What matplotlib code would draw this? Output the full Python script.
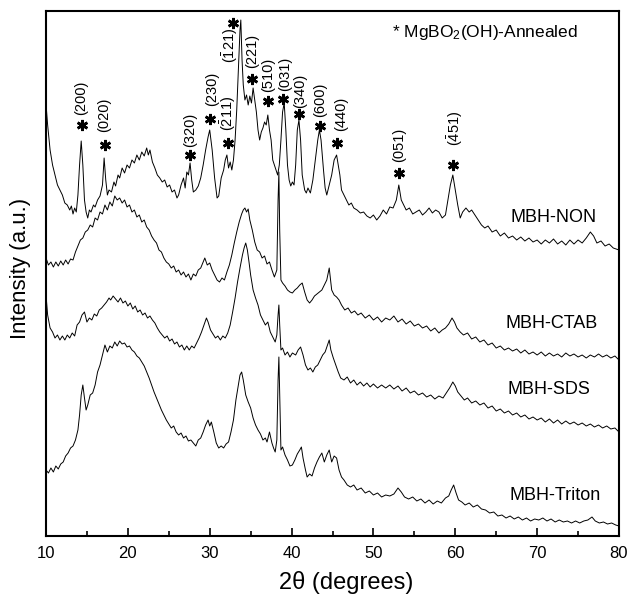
import numpy as np
import matplotlib
matplotlib.use("Agg")
import matplotlib.pyplot as plt

plt.rcParams["font.family"] = ["Liberation Sans", "DejaVu Sans"]
plt.rcParams["mathtext.fontset"] = "custom"
plt.rcParams["mathtext.rm"] = "Liberation Sans"
plt.rcParams["mathtext.it"] = "Liberation Sans:italic"
plt.rcParams["mathtext.bf"] = "Liberation Sans:bold"

# XRD patterns, already stacked (2theta, intensity a.u.)
non_pts = [(10.0, 432), (10.2, 411), (10.5, 386), (10.8, 371), (11.1, 361), (11.4, 351), (11.7, 346),
           (12.0, 341), (12.3, 333), (12.6, 331), (12.9, 326), (13.1, 330), (13.3, 322), (13.5, 328),
           (13.7, 324), (13.9, 341), (14.1, 371), (14.3, 395), (14.5, 371), (14.7, 336), (14.9, 324),
           (15.1, 318), (15.3, 326), (15.5, 324), (15.8, 331), (16.0, 329), (16.3, 336), (16.6, 340),
           (16.9, 351), (17.1, 378), (17.3, 356), (17.5, 341), (17.7, 346), (18.0, 344), (18.3, 354),
           (18.5, 350), (18.8, 361), (19.0, 358), (19.3, 368), (19.6, 363), (19.9, 371), (20.2, 368),
           (20.5, 376), (20.8, 373), (21.1, 381), (21.4, 376), (21.7, 384), (22.0, 380), (22.3, 388),
           (22.5, 381), (22.7, 386), (23.0, 374), (23.3, 368), (23.6, 361), (23.9, 358), (24.2, 354),
           (24.5, 356), (24.8, 349), (25.1, 351), (25.4, 344), (25.7, 346), (26.0, 338), (26.2, 341),
           (26.5, 351), (26.8, 358), (27.0, 348), (27.2, 364), (27.4, 361), (27.6, 373), (27.8, 356),
           (28.0, 344), (28.3, 346), (28.6, 350), (28.9, 358), (29.2, 371), (29.5, 386), (29.8, 399),
           (30.0, 406), (30.3, 386), (30.6, 358), (30.9, 338), (31.1, 340), (31.4, 358), (31.7, 366),
           (31.9, 376), (32.1, 381), (32.3, 368), (32.5, 374), (32.7, 366), (32.9, 376), (33.1, 396),
           (33.3, 426), (33.5, 466), (33.7, 506), (33.8, 516), (33.95, 476), (34.1, 451), (34.3, 436),
           (34.5, 441), (34.7, 431), (34.9, 440), (35.1, 433), (35.3, 448), (35.5, 436), (35.7, 424),
           (35.9, 406), (36.1, 396), (36.3, 404), (36.5, 408), (36.7, 414), (36.9, 411), (37.1, 421),
           (37.3, 406), (37.5, 396), (37.7, 376), (37.9, 371), (38.1, 366), (38.3, 361), (38.5, 371),
           (38.7, 396), (38.9, 424), (39.1, 433), (39.3, 406), (39.5, 371), (39.7, 356), (39.9, 350),
           (40.1, 354), (40.3, 351), (40.5, 371), (40.7, 406), (40.9, 416), (41.1, 396), (41.3, 361),
           (41.6, 346), (41.8, 343), (42.0, 348), (42.3, 343), (42.6, 356), (42.9, 376), (43.2, 396),
           (43.4, 406), (43.6, 396), (43.9, 366), (44.1, 348), (44.3, 341), (44.6, 351), (44.9, 361),
           (45.2, 376), (45.5, 381), (45.7, 371), (45.9, 361), (46.1, 346), (46.4, 341), (46.7, 336),
           (47.0, 331), (47.3, 333), (47.6, 328), (48.0, 326), (48.4, 323), (48.8, 324), (49.2, 320),
           (49.6, 318), (50.0, 321), (50.4, 316), (50.8, 320), (51.2, 326), (51.6, 322), (52.0, 329),
           (52.4, 328), (52.8, 336), (53.1, 351), (53.4, 336), (53.7, 331), (54.0, 326), (54.4, 328),
           (54.8, 322), (55.2, 324), (55.6, 326), (56.0, 321), (56.4, 324), (56.8, 328), (57.2, 323),
           (57.6, 326), (58.0, 324), (58.4, 318), (58.8, 321), (59.1, 336), (59.4, 351), (59.7, 361),
           (60.0, 346), (60.3, 331), (60.6, 318), (60.9, 324), (61.3, 328), (61.7, 324), (62.0, 326),
           (62.4, 321), (62.8, 316), (63.2, 311), (63.6, 308), (64.0, 310), (64.5, 304), (65.0, 306),
           (65.5, 300), (66.0, 303), (66.5, 298), (67.0, 300), (67.5, 296), (68.0, 299), (68.5, 295),
           (69.0, 298), (69.5, 294), (70.0, 296), (70.5, 292), (71.0, 296), (71.5, 293), (72.0, 297),
           (72.5, 292), (73.0, 295), (73.5, 291), (74.0, 296), (74.5, 292), (75.0, 296), (75.5, 293),
           (76.0, 298), (76.5, 304), (76.9, 300), (77.3, 293), (77.8, 295), (78.3, 290), (78.8, 292),
           (79.3, 288), (80.0, 286)]

ctab_pts = [(10.0, 278), (10.3, 271), (10.6, 274), (10.9, 269), (11.2, 274), (11.5, 270), (11.8, 275),
            (12.1, 271), (12.4, 276), (12.7, 272), (13.0, 277), (13.3, 276), (13.6, 284), (13.9, 290),
            (14.2, 296), (14.5, 298), (14.8, 304), (15.1, 306), (15.4, 311), (15.7, 309), (16.0, 318),
            (16.3, 316), (16.6, 324), (16.9, 322), (17.2, 331), (17.5, 326), (17.8, 334), (18.1, 330),
            (18.4, 340), (18.7, 336), (19.0, 338), (19.3, 333), (19.6, 336), (19.9, 329), (20.2, 331),
            (20.5, 324), (20.8, 326), (21.1, 319), (21.4, 321), (21.7, 314), (22.0, 316), (22.3, 309),
            (22.6, 306), (22.9, 300), (23.2, 296), (23.5, 293), (23.8, 286), (24.1, 284), (24.4, 278),
            (24.7, 274), (25.0, 272), (25.3, 268), (25.6, 270), (25.9, 264), (26.2, 266), (26.5, 261),
            (26.8, 264), (27.1, 259), (27.4, 262), (27.7, 256), (28.0, 262), (28.3, 260), (28.6, 266),
            (28.9, 268), (29.2, 274), (29.4, 278), (29.7, 271), (30.0, 273), (30.3, 266), (30.6, 261),
            (30.9, 256), (31.2, 254), (31.5, 258), (31.8, 256), (32.1, 264), (32.4, 271), (32.7, 281),
            (33.0, 293), (33.3, 304), (33.6, 314), (33.9, 322), (34.1, 326), (34.3, 328), (34.5, 324),
            (34.7, 327), (34.9, 316), (35.2, 306), (35.5, 294), (35.8, 286), (36.1, 284), (36.4, 278),
            (36.7, 280), (37.0, 272), (37.3, 274), (37.6, 266), (37.9, 259), (38.2, 266), (38.35, 336),
            (38.45, 364), (38.55, 306), (38.7, 256), (38.9, 253), (39.2, 250), (39.5, 246), (39.8, 244),
            (40.1, 243), (40.4, 246), (40.7, 248), (41.0, 251), (41.3, 253), (41.6, 244), (41.9, 236),
            (42.2, 233), (42.5, 236), (42.8, 240), (43.1, 242), (43.4, 244), (43.7, 246), (44.0, 251),
            (44.3, 256), (44.6, 268), (44.9, 246), (45.2, 241), (45.5, 239), (45.8, 236), (46.1, 231),
            (46.5, 226), (46.9, 228), (47.3, 223), (47.7, 225), (48.1, 221), (48.5, 223), (49.0, 218),
            (49.5, 221), (50.0, 216), (50.5, 219), (51.0, 214), (51.5, 218), (52.0, 216), (52.5, 220),
            (53.0, 214), (53.5, 217), (54.0, 212), (54.5, 215), (55.0, 210), (55.5, 212), (56.0, 208),
            (56.5, 210), (57.0, 205), (57.5, 208), (58.0, 203), (58.4, 206), (58.8, 208), (59.2, 212),
            (59.6, 218), (59.9, 214), (60.2, 208), (60.6, 204), (61.0, 201), (61.5, 203), (62.0, 197),
            (62.5, 199), (63.0, 194), (63.5, 196), (64.0, 191), (64.5, 193), (65.0, 188), (65.5, 190),
            (66.0, 186), (66.5, 188), (67.0, 185), (67.5, 187), (68.0, 183), (68.5, 186), (69.0, 182),
            (69.5, 184), (70.0, 181), (70.5, 184), (71.0, 180), (71.5, 183), (72.0, 180), (72.5, 182),
            (73.0, 179), (73.5, 183), (74.0, 180), (74.5, 182), (75.0, 179), (75.5, 181), (76.0, 178),
            (76.5, 181), (77.0, 179), (77.5, 182), (78.0, 179), (78.5, 181), (79.0, 178), (79.5, 180),
            (80.0, 176)]

sds_pts = [(10.0, 241), (10.2, 221), (10.5, 208), (10.8, 204), (11.1, 198), (11.4, 201), (11.7, 196),
           (12.0, 200), (12.3, 196), (12.6, 201), (12.9, 198), (13.2, 203), (13.5, 200), (13.8, 211),
           (14.1, 214), (14.4, 221), (14.7, 224), (15.0, 214), (15.3, 218), (15.6, 216), (15.9, 222),
           (16.2, 220), (16.5, 226), (16.8, 228), (17.1, 231), (17.4, 234), (17.7, 238), (17.9, 236),
           (18.2, 240), (18.5, 237), (18.8, 234), (19.1, 238), (19.4, 233), (19.7, 235), (20.0, 230),
           (20.3, 233), (20.6, 227), (20.9, 230), (21.2, 224), (21.5, 226), (21.8, 221), (22.1, 223),
           (22.4, 218), (22.7, 220), (23.0, 216), (23.3, 213), (23.6, 208), (23.9, 204), (24.2, 201),
           (24.5, 198), (24.8, 200), (25.1, 195), (25.4, 197), (25.7, 192), (26.0, 194), (26.3, 189),
           (26.6, 191), (26.9, 186), (27.2, 190), (27.5, 186), (27.8, 190), (28.1, 188), (28.4, 193),
           (28.7, 198), (29.0, 204), (29.3, 211), (29.6, 218), (29.8, 214), (30.1, 206), (30.4, 202),
           (30.7, 198), (31.0, 200), (31.3, 196), (31.6, 200), (31.9, 198), (32.2, 203), (32.5, 211),
           (32.8, 224), (33.1, 238), (33.4, 254), (33.7, 268), (34.0, 281), (34.2, 288), (34.4, 293),
           (34.6, 286), (34.8, 274), (35.0, 261), (35.3, 246), (35.6, 238), (35.9, 231), (36.2, 221),
           (36.5, 216), (36.8, 211), (37.1, 214), (37.4, 204), (37.7, 199), (38.0, 194), (38.2, 201),
           (38.35, 221), (38.45, 231), (38.55, 211), (38.7, 186), (38.9, 188), (39.2, 181), (39.5, 184),
           (39.8, 179), (40.1, 183), (40.5, 181), (40.8, 186), (41.1, 189), (41.4, 181), (41.7, 171),
           (42.0, 166), (42.3, 168), (42.6, 164), (42.9, 169), (43.2, 171), (43.5, 176), (43.8, 181),
           (44.1, 184), (44.4, 191), (44.6, 196), (44.8, 186), (45.1, 178), (45.4, 171), (45.7, 164),
           (46.0, 158), (46.4, 156), (46.8, 159), (47.2, 153), (47.6, 156), (48.0, 151), (48.4, 154),
           (48.8, 150), (49.2, 153), (49.6, 149), (50.0, 152), (50.5, 148), (51.0, 151), (51.5, 148),
           (52.0, 151), (52.5, 147), (53.0, 150), (53.5, 145), (54.0, 148), (54.5, 143), (55.0, 145),
           (55.5, 141), (56.0, 143), (56.5, 139), (57.0, 141), (57.5, 137), (58.0, 140), (58.5, 138),
           (58.9, 143), (59.3, 148), (59.7, 154), (60.0, 150), (60.3, 144), (60.7, 140), (61.1, 136),
           (61.5, 138), (62.0, 133), (62.5, 135), (63.0, 131), (63.5, 133), (64.0, 128), (64.5, 130),
           (65.0, 125), (65.5, 127), (66.0, 123), (66.5, 125), (67.0, 121), (67.5, 123), (68.0, 119),
           (68.5, 121), (69.0, 117), (69.5, 119), (70.0, 116), (70.5, 118), (71.0, 114), (71.5, 117),
           (72.0, 113), (72.5, 116), (73.0, 112), (73.5, 115), (74.0, 112), (74.5, 114), (75.0, 111),
           (75.5, 113), (76.0, 110), (76.5, 112), (77.0, 109), (77.5, 111), (78.0, 108), (78.5, 110),
           (79.0, 107), (79.5, 108), (80.0, 104)]

triton_pts = [(10.0, 66), (10.3, 63), (10.6, 68), (10.9, 64), (11.2, 70), (11.5, 67), (11.8, 72),
              (12.1, 74), (12.4, 80), (12.7, 83), (13.0, 88), (13.3, 90), (13.6, 96), (13.9, 106),
              (14.1, 121), (14.3, 141), (14.5, 151), (14.7, 138), (14.9, 126), (15.1, 131), (15.4, 141),
              (15.7, 143), (16.0, 151), (16.3, 164), (16.6, 171), (16.9, 181), (17.2, 191), (17.5, 184),
              (17.8, 190), (18.1, 188), (18.4, 194), (18.7, 190), (19.0, 195), (19.3, 192), (19.6, 193),
              (19.9, 189), (20.2, 190), (20.5, 186), (20.8, 184), (21.1, 180), (21.4, 178), (21.7, 174),
              (22.0, 170), (22.3, 164), (22.6, 158), (22.9, 151), (23.2, 144), (23.5, 138), (23.8, 132),
              (24.1, 126), (24.4, 121), (24.7, 116), (25.0, 112), (25.3, 108), (25.6, 110), (25.9, 104),
              (26.2, 101), (26.5, 103), (26.8, 98), (27.1, 100), (27.4, 95), (27.7, 96), (28.0, 93),
              (28.3, 90), (28.6, 96), (28.9, 98), (29.2, 104), (29.5, 111), (29.8, 116), (30.0, 110),
              (30.2, 114), (30.5, 104), (30.8, 93), (31.1, 88), (31.4, 90), (31.7, 88), (32.0, 92),
              (32.3, 94), (32.6, 104), (32.9, 116), (33.2, 136), (33.5, 151), (33.7, 161), (33.9, 164),
              (34.1, 156), (34.4, 141), (34.7, 134), (35.0, 128), (35.3, 118), (35.6, 111), (35.9, 106),
              (36.2, 102), (36.5, 96), (36.8, 98), (37.0, 94), (37.3, 104), (37.6, 93), (37.8, 88),
              (38.0, 84), (38.2, 96), (38.35, 156), (38.45, 179), (38.55, 141), (38.7, 86), (38.9, 89),
              (39.2, 81), (39.5, 76), (39.8, 70), (40.1, 71), (40.4, 76), (40.7, 82), (41.0, 86),
              (41.2, 89), (41.4, 78), (41.7, 66), (41.9, 59), (42.2, 62), (42.5, 60), (42.8, 68),
              (43.1, 74), (43.4, 79), (43.7, 83), (44.0, 74), (44.3, 81), (44.6, 86), (44.9, 74),
              (45.2, 80), (45.5, 78), (45.8, 66), (46.1, 59), (46.4, 56), (46.8, 51), (47.2, 49),
              (47.6, 51), (48.0, 46), (48.5, 48), (49.0, 43), (49.5, 45), (50.0, 41), (50.5, 43),
              (51.0, 39), (51.5, 41), (52.0, 40), (52.5, 42), (53.0, 48), (53.4, 44), (53.8, 39),
              (54.3, 37), (54.8, 39), (55.3, 35), (55.8, 37), (56.3, 33), (56.8, 36), (57.3, 32),
              (57.8, 35), (58.3, 33), (58.8, 38), (59.2, 40), (59.5, 46), (59.8, 51), (60.1, 43),
              (60.4, 36), (60.8, 34), (61.2, 31), (61.7, 33), (62.2, 29), (62.7, 31), (63.2, 27),
              (63.7, 26), (64.2, 23), (64.7, 24), (65.2, 20), (65.7, 21), (66.2, 18), (66.7, 20),
              (67.2, 17), (67.7, 19), (68.2, 16), (68.7, 18), (69.2, 15), (69.7, 17), (70.2, 16),
              (70.7, 18), (71.2, 15), (71.7, 17), (72.2, 14), (72.7, 16), (73.2, 14), (73.7, 15),
              (74.2, 13), (74.7, 15), (75.2, 13), (75.7, 15), (76.2, 16), (76.7, 19), (77.1, 15),
              (77.6, 13), (78.1, 14), (78.6, 12), (79.1, 13), (79.6, 11), (80.0, 10)]

names = ["MBH-NON", "MBH-CTAB", "MBH-SDS", "MBH-Triton"]
name_pos = [(66.7, 318), (66.1, 213), (66.4, 146), (66.6, 40)]

# (hkl label, star 2theta, star height, label 2theta, label height)
peaks = [
    ("(200)", 14.4, 411, 14.3, 438),
    ("(020)", 17.2, 391, 17.1, 421),
    ("(320)", 27.6, 381, 27.6, 406),
    ("(230)", 30.0, 417, 30.3, 447),
    (r"$\mathrm{(\bar{2}11)}$", 32.2, 393, 32.2, 423),
    (r"$\mathrm{(\bar{1}21)}$", 32.8, 513, 32.5, 491),
    ("(221)", 35.2, 457, 35.2, 485),
    ("(510)", 37.1, 435, 37.1, 461),
    ("(031)", 39.0, 437, 39.2, 462),
    ("(340)", 40.9, 422, 41.1, 445),
    ("(600)", 43.5, 410, 43.5, 436),
    ("(440)", 45.5, 393, 46.0, 422),
    ("(051)", 53.1, 363, 53.1, 391),
    (r"$\mathrm{(\bar{4}51)}$", 59.7, 371, 60.0, 408),
]

fig = plt.figure(figsize=(6.34, 5.98), dpi=100)
ax = fig.add_axes([46 / 634, 62 / 598, 573 / 634, 525 / 598])

for pts in [non_pts, ctab_pts, sds_pts, triton_pts]:
    tt, ii = np.array(pts).T
    ax.plot(tt, ii, color="black", lw=0.7)

for name, (x, y) in zip(names, name_pos):
    ax.text(x, y, name, fontsize=13, ha="left", va="center")

for lab, sx, sy, lx, ly in peaks:
    ax.plot(sx, sy, marker=(6, 2, 0), ms=8, mew=1.9, color="black")
    ax.text(lx, ly, lab, rotation=90, fontsize=10.5, ha="center", va="center")

ax.text(75.0, 504, r"* MgBO$_2$(OH)-Annealed", fontsize=12.5, ha="right", va="center")

ax.set_xlim(10, 80)
ax.set_ylim(0, 525)
ax.set_yticks([])
ax.set_xticks([10, 20, 30, 40, 50, 60, 70, 80])
ax.set_xticks([15, 25, 35, 45, 55, 65, 75], minor=True)
ax.tick_params(axis="x", which="major", direction="in", length=5.5, width=1.2, labelsize=12, pad=7)
ax.tick_params(axis="x", which="minor", direction="in", length=3.5, width=1.2)
for s in ax.spines.values():
    s.set_linewidth(1.5)

fig.text(346 / 634, 1 - 582 / 598, "2θ (degrees)", fontsize=17, ha="center", va="center")
fig.text(21 / 634, 1 - 268 / 598, "Intensity (a.u.)", fontsize=16, rotation=90, ha="center", va="center")

fig.savefig("out.png", dpi=100)
